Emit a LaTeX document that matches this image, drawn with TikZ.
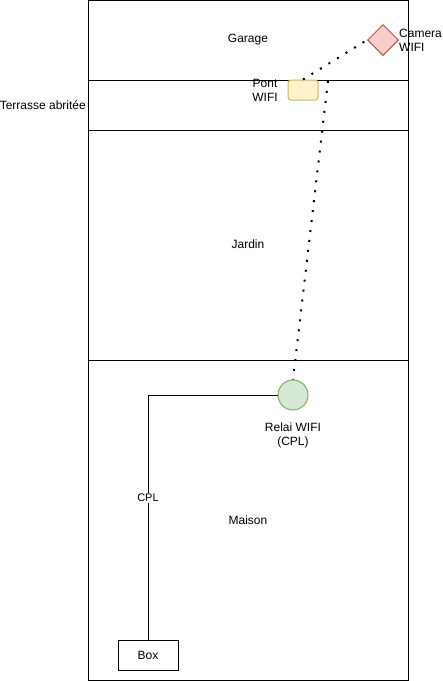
\documentclass[tikz,border=0pt]{standalone}
\usepackage{fontspec}
\setmainfont{Liberation Sans}
\usetikzlibrary{shapes.geometric}
\definecolor{pontfill}{HTML}{FFF2CC}
\definecolor{pontdraw}{HTML}{D6B656}
\definecolor{camfill}{HTML}{F8CECC}
\definecolor{camdraw}{HTML}{B85450}
\definecolor{relfill}{HTML}{D5E8D4}
\definecolor{reldraw}{HTML}{82B366}
\tikzset{
  zone/.style={draw=black, line width=1pt},
  lbl/.style={font=\fontsize{12}{14}\selectfont, align=center, inner sep=0pt},
  wifi/.style={line width=2pt, dash pattern=on 2pt off 8pt},
  cable/.style={draw=black, line width=1pt},
}
\begin{document}
\begin{tikzpicture}[x=1pt,y=-1pt]
\useasboundingbox (0,0) rectangle (443,681);
\fill[white] (0,0) rectangle (443,681);
% zones
\draw[zone] (88,0) rectangle (408,80);
\draw[zone] (88,80) rectangle (408,130);
\draw[zone] (88,130) rectangle (408,360);
\draw[zone] (88,360) rectangle (408,680);
\node[lbl] (garage) at (248,40) {Garage};
\node[lbl, anchor=east] (terrasse) at (86,105) {Terrasse abritée};
\node[lbl] (jardin) at (248,244) {Jardin};
\node[lbl] (maison) at (248,520) {Maison};
% devices
\node[diamond, draw=camdraw, fill=camfill, line width=1pt, minimum width=31pt, minimum height=31pt, inner sep=0pt] (cam) at (383,40) {};
\node[lbl, anchor=west, align=left] (camlbl) at (399,40) {Camera\\WIFI};
\node[draw=pontdraw, fill=pontfill, line width=1pt, rounded corners=3pt, minimum width=30pt, minimum height=20pt, inner sep=0pt] (pont) at (303,90) {};
\node[lbl] (pontlbl) at (265,90) {Pont\\WIFI};
\node[circle, draw=reldraw, fill=relfill, line width=1pt, minimum size=30pt, inner sep=0pt] (relai) at (293,395) {};
\node[lbl] (rellbl) at (293,435) {Relai WIFI\\(CPL)};
\node[draw=black, line width=1pt, minimum width=60pt, minimum height=30pt, inner sep=0pt, font=\fontsize{12}{14}\selectfont] (box) at (148,655) {Box};
% connections
\coordinate (pontR) at (328,81);
\coordinate (corner) at (148,395);
\draw[wifi] (pont.north) -- (cam.west);
\draw[wifi] (pontR) -- (relai.north);
\draw[cable] (relai.west) -- (corner) -- (box.north);
\node[fill=white, font=\fontsize{11}{13}\selectfont, inner sep=1pt] (cpl) at (148,498) {CPL};
\end{tikzpicture}
\end{document}
